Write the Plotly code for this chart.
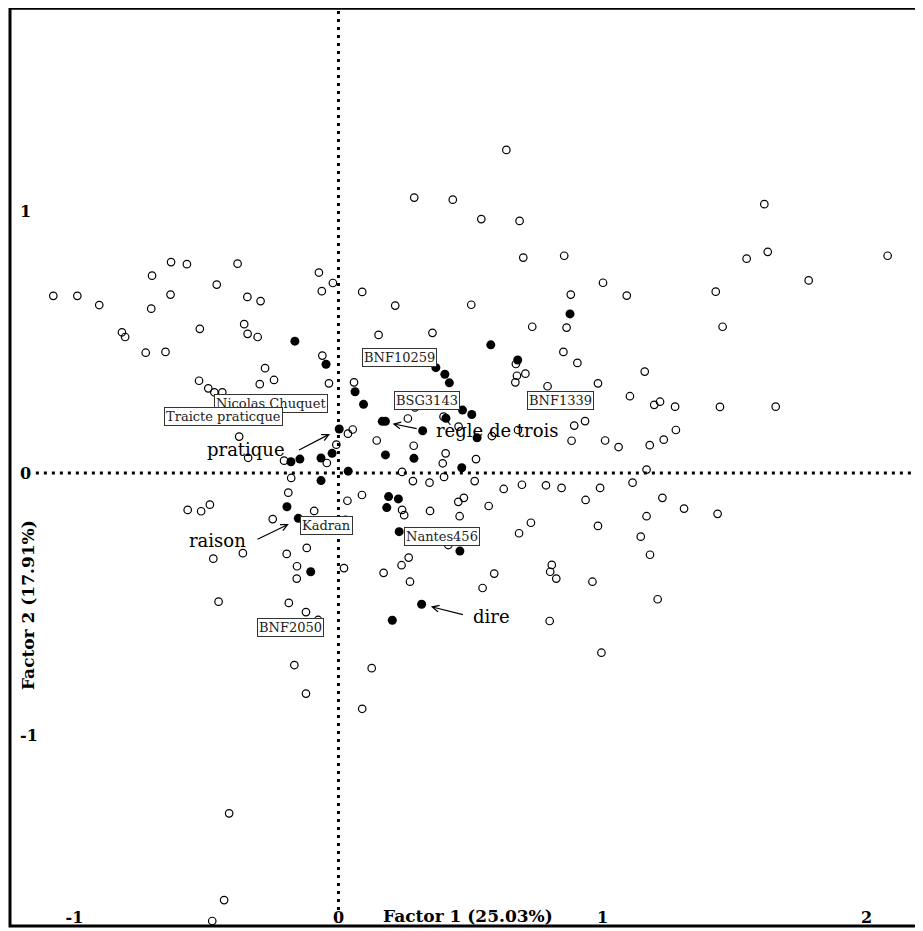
"""
Correspondence analysis factor map (Factor 1 x Factor 2).
"""

import plotly.graph_objects as go

# texts / words (open circles)
open_x = [
    -1.080, -0.989, -0.906, -0.820, -0.808, -0.730, -0.655, -0.706, -0.709, -0.634,
    -0.574, -0.636, -0.525, -0.461, -0.382, -0.345, -0.295, -0.357, -0.344, -0.306,
    -0.278, -0.244, -0.298, -0.528, -0.493, -0.470, -0.440, -0.376, -0.342, -0.074,
    -0.021, -0.063, -0.061, 0.636, 0.287, 0.433, 0.541, 0.686, 0.700, 0.855,
    1.002, 0.090, 0.215, 0.503, 0.880, 0.864, 0.734, 0.152, 0.356, 0.672,
    0.852, 0.905, 0.676, 0.708, 0.670, 0.792, 0.983, -0.036, 0.059, 0.290,
    0.398, 0.263, 0.036, 0.054, -0.008, 0.145, 0.285, 0.581, 0.680, 0.455,
    0.893, 0.934, 0.883, 1.010, 1.061, 1.613, 1.626, 1.546, 2.080, 1.781,
    1.092, 1.429, 1.455, 1.160, 1.104, 1.196, 1.218, 1.275, 1.445, 1.656,
    1.278, 1.232, 1.179, -0.044, -0.206, -0.179, -0.190, 0.089, 0.034, -0.092,
    -0.249, 0.027, -0.571, -0.520, -0.487, -0.120, -0.196, -0.362, -0.474, -0.157,
    -0.158, 0.021, -0.454, -0.188, -0.123, -0.077, 0.406, 0.395, 0.521, 0.241,
    0.282, 0.345, 0.400, 0.516, 0.626, 0.695, 0.786, 0.845, 0.991, 0.936,
    0.241, 0.249, 0.347, 0.454, 0.475, 0.569, 0.459, 0.729, 0.684, 0.983,
    0.416, 0.171, 0.239, 0.266, 0.271, 0.546, 0.590, 0.808, 0.802, 0.825,
    0.962, 0.800, 0.996, 0.126, 1.167, 1.114, 1.227, 1.309, 1.436, 1.167,
    1.145, 1.180, 1.209, -0.167, -0.123, 0.090, -0.414, -0.433, -0.478,
]
open_y = [
    0.676, 0.676, 0.641, 0.537, 0.519, 0.459, 0.462, 0.753, 0.627, 0.805,
    0.797, 0.681, 0.550, 0.719, 0.799, 0.672, 0.656, 0.568, 0.531, 0.519,
    0.400, 0.355, 0.339, 0.352, 0.323, 0.308, 0.308, 0.139, 0.058, 0.765,
    0.725, 0.694, 0.448, 1.233, 1.051, 1.043, 0.969, 0.962, 0.822, 0.829,
    0.726, 0.691, 0.639, 0.642, 0.681, 0.555, 0.558, 0.527, 0.535, 0.416,
    0.462, 0.420, 0.371, 0.379, 0.346, 0.331, 0.342, 0.342, 0.346, 0.250,
    0.215, 0.208, 0.150, 0.166, 0.108, 0.124, 0.104, 0.141, 0.164, 0.177,
    0.181, 0.198, 0.123, 0.124, 0.099, 1.026, 0.844, 0.818, 0.829, 0.735,
    0.677, 0.692, 0.558, 0.387, 0.293, 0.260, 0.272, 0.253, 0.252, 0.253,
    0.164, 0.127, 0.106, 0.038, 0.047, -0.019, -0.075, -0.084, -0.106, -0.145,
    -0.176, -0.179, -0.141, -0.146, -0.121, -0.286, -0.309, -0.306, -0.327, -0.356,
    -0.403, -0.363, -0.491, -0.496, -0.531, -0.561, 0.075, 0.037, 0.053, 0.004,
    -0.031, -0.037, -0.015, -0.031, -0.061, -0.045, -0.047, -0.057, -0.057, -0.103,
    -0.141, -0.161, -0.145, -0.110, -0.095, -0.126, -0.165, -0.190, -0.230, -0.202,
    -0.275, -0.381, -0.352, -0.323, -0.415, -0.439, -0.384, -0.351, -0.377, -0.403,
    -0.415, -0.565, -0.686, -0.745, 0.013, -0.037, -0.095, -0.136, -0.156, -0.165,
    -0.243, -0.312, -0.482, -0.733, -0.842, -0.900, -1.299, -1.630, -1.710,
]

# highlighted words (filled circles)
filled_x = [
    -0.165, 0.877, 0.577, -0.047, 0.354, 0.369, 0.403, 0.420, 0.679, 0.063,
    0.095, 0.470, 0.505, 0.407, 0.166, 0.178, 0.319, 0.003, 0.525, -0.024,
    -0.066, -0.146, -0.180, 0.037, -0.066, -0.195, -0.152, -0.105, 0.178, 0.286,
    0.467, 0.190, 0.227, 0.183, 0.230, 0.460, 0.315, 0.204,
]
filled_y = [
    0.503, 0.607, 0.489, 0.415, 0.459, 0.402, 0.377, 0.344, 0.431, 0.310,
    0.262, 0.240, 0.223, 0.209, 0.197, 0.197, 0.161, 0.168, 0.134, 0.075,
    0.057, 0.053, 0.043, 0.007, -0.029, -0.129, -0.173, -0.377, 0.069, 0.056,
    0.020, -0.090, -0.099, -0.132, -0.224, -0.298, -0.501, -0.562,
]

# boxed text labels
box_labels = ["BNF10259", "BSG3143", "BNF1339", "Nicolas Chuquet",
              "Traicte praticque", "Kadran", "Nantes456", "BNF2050"]
box_x = [0.233, 0.337, 0.842, -0.256, -0.435, -0.044, 0.393, -0.181]
box_y = [0.439, 0.276, 0.277, 0.267, 0.216, -0.202, -0.243, -0.588]

# word labels with arrows: text position, arrow tail, arrow head
word_labels = ["pratique", "raison", "règle de trois", "dire"]
word_x = [-0.350, -0.460, 0.602, 0.581]
word_y = [0.088, -0.258, 0.164, -0.548]
tail_x = [-0.155, -0.312, 0.302, 0.477]
tail_y = [0.085, -0.256, 0.168, -0.542]
head_x = [-0.032, -0.188, 0.205, 0.350]
head_y = [0.149, -0.195, 0.188, -0.510]

x_ticks = [-1, 0, 1, 2]
y_ticks = [-1, 0, 1]
x_title = "Factor 1 (25.03%)"
y_title = "Factor 2 (17.91%)"

SERIF = "DejaVu Serif"


def main():
    fig = go.Figure()

    # 两类点
    fig.add_trace(go.Scatter(
        x=open_x, y=open_y, mode="markers",
        marker=dict(symbol="circle-open", size=7.5, color="black", line=dict(width=1.2)),
        showlegend=False, hoverinfo="skip",
    ))
    fig.add_trace(go.Scatter(
        x=filled_x, y=filled_y, mode="markers",
        marker=dict(symbol="circle", size=9, color="black"),
        showlegend=False, hoverinfo="skip",
    ))

    # 虚线坐标轴
    dot = dict(color="black", width=3, dash="3px,5px")
    fig.add_shape(type="line", x0=0, x1=0, y0=-1.668, y1=1.767, line=dot, layer="below")
    fig.add_shape(type="line", x0=-1.146, x1=2.214, y0=0, y1=0, line=dot, layer="below")

    # 外框 (右边框在窗口外)
    fig.add_shape(type="rect", xref="paper", yref="paper", x0=0, x1=1.01, y0=0, y1=1.0019,
                  line=dict(color="black", width=3))

    # 方框标签
    for text, x, y in zip(box_labels, box_x, box_y):
        fig.add_annotation(
            x=x, y=y, text=text, showarrow=False,
            font=dict(family=SERIF, size=13, color="#222"),
            bgcolor="white", bordercolor="#333", borderwidth=1, borderpad=1,
        )

    # 带箭头的词
    for text, x, y, tx, ty, hx, hy in zip(word_labels, word_x, word_y,
                                          tail_x, tail_y, head_x, head_y):
        fig.add_annotation(
            x=x, y=y, text=text, showarrow=False,
            font=dict(family=SERIF, size=18, color="black"),
        )
        fig.add_annotation(
            x=hx, y=hy, ax=tx, ay=ty, axref="x", ayref="y", text="",
            showarrow=True, arrowhead=5, arrowsize=1.1, arrowwidth=1.2,
            arrowcolor="black", standoff=0, startstandoff=0,
        )

    # 轴标题
    title_font = dict(family=SERIF, size=17, color="black", weight="bold")
    fig.add_annotation(
        x=0.5016, y=0.0109, xref="paper", yref="paper", text=x_title, showarrow=False,
        font=title_font, yanchor="middle",
    )
    fig.add_annotation(
        x=0.0197, y=0.3504, xref="paper", yref="paper", text=y_title, showarrow=False,
        textangle=-90, font=title_font, xanchor="center",
    )

    tick_font = dict(family=SERIF, size=16, color="black", weight="bold")
    fig.update_xaxes(
        range=[-1.244, 2.214], tickvals=x_ticks, ticktext=[str(v) for v in x_ticks],
        ticklabelposition="inside", ticks="", showgrid=False, zeroline=False,
        showline=False, tickfont=tick_font, ticklabelstandoff=-3,
    )
    fig.update_yaxes(
        range=[-1.729, 1.767], tickvals=y_ticks, ticktext=[str(v) for v in y_ticks],
        ticklabelposition="inside", ticks="", showgrid=False, zeroline=False,
        showline=False, tickfont=tick_font, ticklabelstandoff=7,
    )

    # 页面 body 有 8px 边距, 图尺寸相应缩小
    fig.update_layout(
        width=915, height=923,
        margin=dict(l=2, r=0, t=2, b=5),
        paper_bgcolor="white", plot_bgcolor="white",
        font=dict(family=SERIF),
        showlegend=False,
    )

    fig.write_html("out.html")


if __name__ == "__main__":
    main()
